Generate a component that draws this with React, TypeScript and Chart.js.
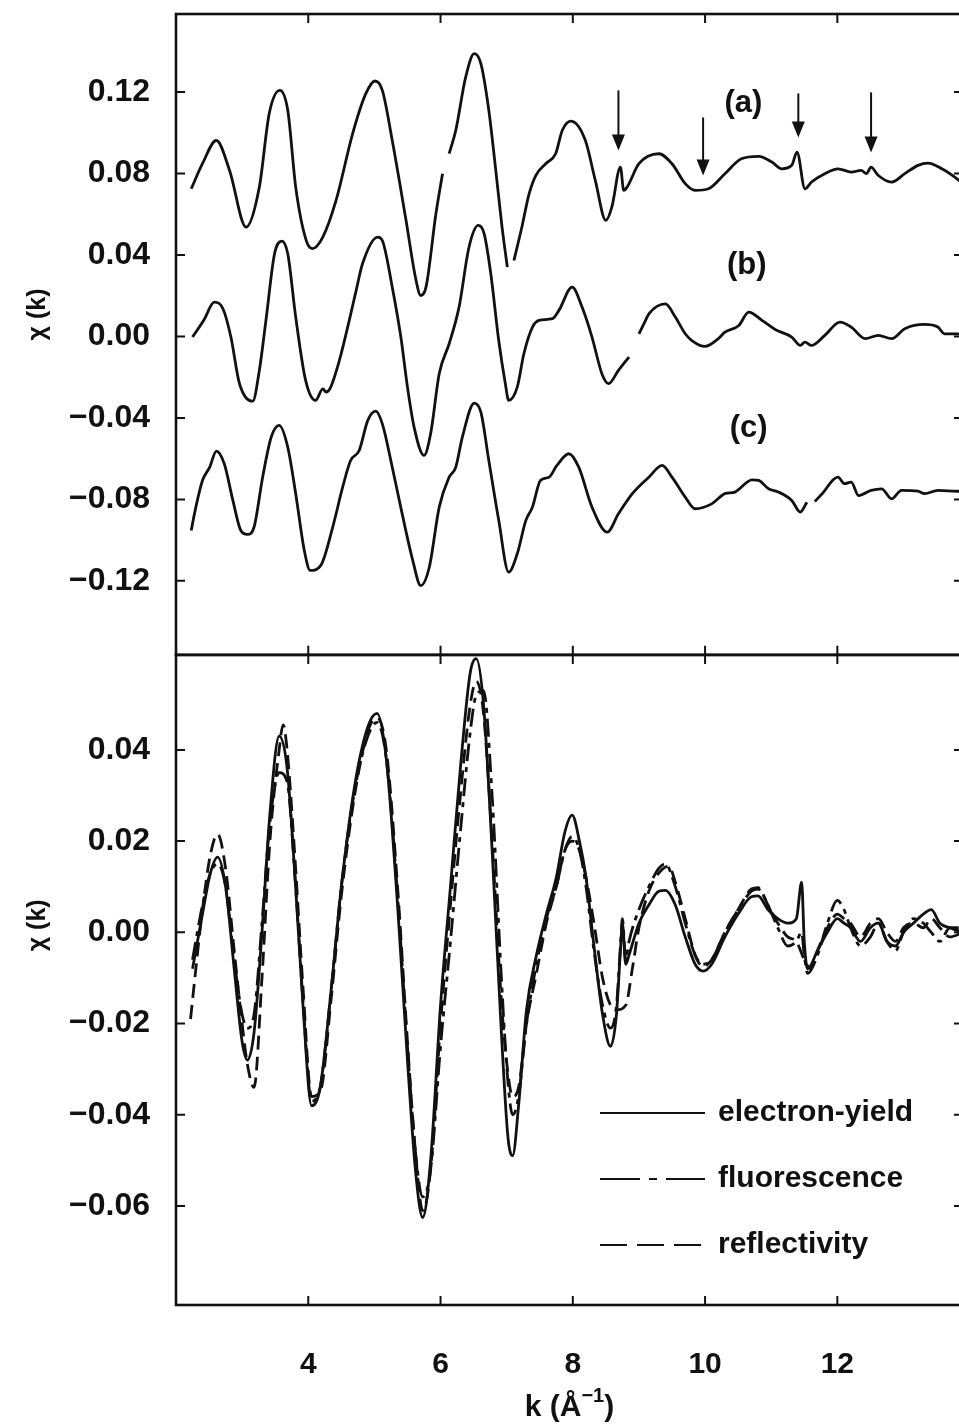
import React, { useEffect, useRef } from 'react';
import { Chart, registerables } from 'chart.js';

Chart.register(...registerables);

const FONT = '"Liberation Sans", Arial, Helvetica, sans-serif';
const INK = '#111';

// Shared k axis
const K_MIN = 2.0;
const K_MAX = 13.9;
const X_TICKS = [4, 6, 8, 10, 12];

// Upper panel: three offset spectra (a), (b), (c)
const TOP_MIN = -0.1563;
const TOP_MAX = 0.1583;
const TOP_TICKS = [0.12, 0.08, 0.04, 0.0, -0.04, -0.08, -0.12];

const K_A = [
  2.23, 2.40, 2.61, 2.81, 3.06, 3.26, 3.41, 3.57, 3.69, 3.81,
  3.97, 4.06, 4.22, 4.42, 4.67, 4.87, 5.01, 5.12, 5.27, 5.47,
  5.63, 5.70, 5.78, 5.93, 6.03, 6.08, 6.13, 6.23, 6.38, 6.51,
  6.61, 6.73, 6.83, 6.93, 7.01, 7.06, 7.11, 7.23, 7.34, 7.44,
  7.59, 7.74, 7.84, 7.97, 8.19, 8.34, 8.50, 8.59, 8.72, 8.77,
  8.82, 9.00, 9.30, 9.50, 9.70, 9.85, 10.05, 10.30, 10.55, 10.81,
  11.01, 11.16, 11.31, 11.39, 11.51, 11.61, 11.81, 12.01, 12.21, 12.36,
  12.44, 12.51, 12.62, 12.82, 13.02, 13.22, 13.37, 13.58, 13.81, 13.90,
];
const CHI_A = [
  0.0725, 0.0848, 0.0962, 0.0815, 0.0537, 0.0733, 0.1095, 0.1208, 0.111, 0.0733,
  0.047, 0.0431, 0.0488, 0.0668, 0.0995, 0.1192, 0.1254, 0.1208, 0.0962, 0.0586,
  0.0275, 0.0201, 0.0242, 0.0602, 0.0799, null, 0.0897, 0.1011, 0.1273, 0.1388,
  0.1339, 0.111, 0.0831, 0.0537, 0.034, null, 0.0373, 0.0537, 0.0701, 0.079,
  0.0848, 0.0897, 0.1011, 0.1057, 0.0962, 0.0766, 0.057, 0.0635, 0.0831, 0.0717,
  0.0733, 0.0848, 0.0897, 0.0848, 0.075, 0.0717, 0.0725, 0.0799, 0.0872, 0.0884,
  0.0856, 0.0823, 0.084, 0.0905, 0.0725, 0.0758, 0.0799, 0.0823, 0.0807, 0.0815,
  0.0799, 0.0831, 0.079, 0.0758, 0.0799, 0.084, 0.0851, 0.0823, 0.0774, 0.075,
];

const K_B = [
  2.25, 2.42, 2.58, 2.71, 2.83, 2.96, 3.16, 3.26, 3.36, 3.49,
  3.60, 3.69, 3.81, 3.96, 4.11, 4.22, 4.27, 4.33, 4.47, 4.62,
  4.72, 4.82, 5.05, 5.12, 5.27, 5.40, 5.50, 5.60, 5.75, 5.85,
  5.98, 6.13, 6.28, 6.43, 6.57, 6.66, 6.76, 6.88, 6.98, 7.03,
  7.16, 7.26, 7.39, 7.49, 7.69, 7.79, 7.99, 8.14, 8.29, 8.44,
  8.54, 8.69, 8.85, 8.92, 9.00, 9.10, 9.15, 9.40, 9.55, 9.70,
  9.80, 10.00, 10.20, 10.30, 10.51, 10.66, 10.86, 11.06, 11.31, 11.44,
  11.51, 11.61, 11.81, 12.04, 12.21, 12.42, 12.62, 12.82, 13.02, 13.32,
  13.52, 13.62, 13.81, 13.90,
];
const CHI_B = [
  -0.0003, 0.0079, 0.0168, 0.0136, -0.0003, -0.0232, -0.0318, -0.0167, 0.0079, 0.0406,
  0.0468, 0.0406, 0.0095, -0.0216, -0.0314, -0.0257, -0.0273, -0.0255, -0.0118, 0.0079,
  0.022, 0.0357, 0.0488, 0.0471, 0.0242, -0.0003, -0.0249, -0.0445, -0.0584, -0.0478,
  -0.0183, -0.0036, 0.0144, 0.0438, 0.0545, 0.0504, 0.0308, -0.002, -0.0232, -0.0314,
  -0.0249, -0.0085, 0.0046, 0.0079, 0.0087, 0.0128, 0.0242, 0.0144, -0.0003, -0.0183,
  -0.0232, -0.0167, -0.0101, null, 0.0013, 0.0079, 0.0111, 0.016, 0.0095, 0.0013,
  -0.002, -0.0049, -0.0011, 0.0021, 0.0054, 0.0119, 0.0079, 0.0034, -0.0003, -0.0044,
  -0.0028, -0.0044, 0.0005, 0.007, 0.0046, -0.0011, 0.0005, -0.0011, 0.0038, 0.0059,
  0.0046, 0.0013, 0.0013, 0.001,
];

const K_C = [
  2.23, 2.30, 2.40, 2.51, 2.61, 2.73, 2.86, 2.98, 3.08, 3.18,
  3.31, 3.44, 3.56, 3.69, 3.81, 3.94, 4.03, 4.19, 4.37, 4.52,
  4.64, 4.77, 4.90, 5.02, 5.12, 5.27, 5.42, 5.58, 5.70, 5.83,
  5.98, 6.13, 6.23, 6.33, 6.51, 6.61, 6.73, 6.88, 7.03, 7.16,
  7.29, 7.39, 7.51, 7.64, 7.76, 7.94, 8.09, 8.29, 8.52, 8.69,
  8.90, 9.15, 9.35, 9.50, 9.70, 9.85, 10.10, 10.30, 10.45, 10.71,
  10.81, 10.96, 11.11, 11.31, 11.44, 11.54, 11.60, 11.66, 11.77, 12.01,
  12.11, 12.21, 12.32, 12.51, 12.67, 12.82, 12.97, 13.22, 13.32, 13.52,
  13.81, 13.90,
];
const CHI_C = [
  -0.0953, -0.0838, -0.0707, -0.0642, -0.0563, -0.0625, -0.0805, -0.0953, -0.0972, -0.0936,
  -0.0691, -0.0494, -0.0437, -0.0544, -0.0772, -0.1051, -0.1149, -0.1124, -0.0936, -0.074,
  -0.0609, -0.056, -0.0412, -0.0367, -0.0429, -0.0642, -0.0871, -0.11, -0.1223, -0.1133,
  -0.0838, -0.0691, -0.0642, -0.0494, -0.0327, -0.0372, -0.0609, -0.0903, -0.1157, -0.1067,
  -0.0903, -0.0838, -0.0707, -0.0691, -0.0633, -0.0576, -0.0642, -0.0838, -0.0961, -0.0871,
  -0.0772, -0.0691, -0.0633, -0.0691, -0.0789, -0.0846, -0.0822, -0.0772, -0.0764, -0.0704,
  -0.0707, -0.0748, -0.0764, -0.0805, -0.0862, -0.0814, null, -0.081, -0.0772, -0.0691,
  -0.0723, -0.0715, -0.0781, -0.0756, -0.0748, -0.0797, -0.0756, -0.076, -0.0772, -0.0756,
  -0.076, -0.076,
];

const PANEL_LABELS = ['(a)', '(b)', '(c)'];
const PANEL_LABEL_K = [10.58, 10.63, 10.66];
const PANEL_LABEL_CHI = [0.1144, 0.0349, -0.0452];

// Arrows marking glitches in spectrum (a)
const ARROW_K = [8.69, 9.97, 11.41, 12.51];
const ARROW_FROM = [0.1208, 0.1075, 0.1193, 0.1198];
const ARROW_TO = [0.0913, 0.079, 0.0977, 0.0903];

// Lower panel: comparison of detection modes
const BOT_MIN = -0.0817;
const BOT_MAX = 0.0608;
const BOT_TICKS = [0.04, 0.02, 0.0, -0.02, -0.04, -0.06];

const K_EY = [
  2.25, 2.4, 2.52, 2.63, 2.75, 2.88, 3.0, 3.08, 3.18, 3.3,
  3.42, 3.56, 3.68, 3.8, 3.92, 4.05, 4.18, 4.35, 4.5, 4.7,
  4.9, 5.04, 5.18, 5.35, 5.5, 5.62, 5.73, 5.85, 6.0, 6.15,
  6.3, 6.45, 6.54, 6.65, 6.78, 6.92, 7.02, 7.09, 7.18, 7.3,
  7.45, 7.6, 7.75, 7.88, 7.99, 8.1, 8.2, 8.32, 8.45, 8.57,
  8.66, 8.72, 8.75, 8.8, 8.85, 9.0, 9.15, 9.3, 9.4, 9.55,
  9.7, 9.85, 9.97, 10.1, 10.3, 10.5, 10.7, 10.8, 10.95, 11.1,
  11.25, 11.38, 11.46, 11.5, 11.55, 11.7, 11.85, 12.0, 12.1, 12.2,
  12.35, 12.5, 12.62, 12.75, 12.88, 13.0, 13.15, 13.3, 13.42, 13.55,
  13.7, 13.9,
];
const CHI_EY = [
  -0.008, 0.004, 0.013, 0.0165, 0.01, -0.008, -0.024, -0.028, -0.022, 0.0,
  0.026, 0.043, 0.036, 0.012, -0.016, -0.038, -0.034, -0.012, 0.01, 0.032,
  0.045, 0.048, 0.038, 0.006, -0.028, -0.052, -0.0625, -0.05, -0.016, 0.01,
  0.036, 0.057, 0.06, 0.05, 0.018, -0.022, -0.045, -0.049, -0.038, -0.017,
  -0.005, 0.004, 0.012, 0.022, 0.0257, 0.02, 0.012, -0.003, -0.018, -0.025,
  -0.018, -0.004, 0.002, -0.007, -0.005, 0.002, 0.006, 0.009, 0.0092, 0.006,
  -0.001, -0.007, -0.0085, -0.007, -0.001, 0.004, 0.0078, 0.008, 0.005, 0.003,
  0.002, 0.003, 0.011, -0.002, -0.008, -0.004, 0.0, 0.003, 0.002, 0.001,
  -0.002, 0.001, 0.002, -0.002, -0.003, 0.0, 0.002, 0.004, 0.005, 0.002,
  0.001, 0.0,
];
const CHI_FL = [
  -0.006, 0.006, 0.013, 0.015, 0.01, -0.006, -0.018, -0.021, -0.018, 0.002,
  0.024, 0.035, 0.033, 0.012, -0.015, -0.037, -0.034, -0.012, 0.01, 0.031,
  0.043, 0.046, 0.038, 0.008, -0.025, -0.048, -0.058, -0.052, -0.025, -0.002,
  0.022, 0.044, 0.052, 0.053, 0.03, -0.01, -0.033, -0.04, -0.036, -0.02,
  -0.007, 0.003, 0.01, 0.018, 0.021, 0.018, 0.01, -0.004, -0.016, -0.021,
  -0.016, -0.003, 0.003, -0.006, -0.002, 0.005, 0.01, 0.014, 0.015, 0.01,
  0.002, -0.005, -0.007, -0.006, 0.0, 0.005, 0.009, 0.0095, 0.006, 0.001,
  -0.003, -0.002, 0.0, -0.005, -0.009, -0.005, 0.002, 0.007, 0.005, 0.001,
  -0.003, -0.001, 0.002, -0.002, -0.004, 0.0, 0.003, 0.002, 0.0, -0.002,
  0.001, 0.001,
];

const K_RF = [
  2.22, 2.3, 2.4, 2.52, 2.63, 2.75, 2.88, 3.0, 3.08, 3.18,
  3.3, 3.42, 3.56, 3.62, 3.68, 3.8, 3.92, 4.05, 4.18, 4.35,
  4.5, 4.7, 4.9, 5.04, 5.18, 5.35, 5.5, 5.62, 5.73, 5.85,
  6.0, 6.15, 6.3, 6.45, 6.54, 6.65, 6.78, 6.92, 7.02, 7.09,
  7.18, 7.3, 7.45, 7.6, 7.75, 7.88, 7.99, 8.1, 8.2, 8.32,
  8.45, 8.57, 8.66, 8.8, 8.9, 9.0, 9.15, 9.3, 9.45, 9.55,
  9.7, 9.85, 9.97, 10.1, 10.3, 10.5, 10.7, 10.8, 10.95, 11.1,
  11.25, 11.38, 11.5, 11.6, 11.7, 11.85, 12.0, 12.1, 12.2, 12.35,
  12.5, 12.62, 12.75, 12.88, 13.0, 13.15, 13.3, 13.42, 13.55, 13.7,
  13.9,
];
const CHI_RF = [
  -0.019, -0.008, 0.005, 0.017, 0.0215, 0.014, -0.004, -0.02, -0.029, -0.034,
  -0.01, 0.02, 0.04, 0.0455, 0.04, 0.016, -0.012, -0.036, -0.035, -0.014,
  0.008, 0.03, 0.044, 0.047, 0.04, 0.01, -0.024, -0.048, -0.061, -0.052,
  -0.02, 0.006, 0.03, 0.05, 0.055, 0.048, 0.02, -0.015, -0.031, -0.036,
  -0.034, -0.02, -0.009, 0.002, 0.01, 0.018, 0.02, 0.018, 0.012, 0.002,
  -0.01, -0.016, -0.017, -0.016, -0.008, 0.001, 0.009, 0.013, 0.0145, 0.011,
  0.003, -0.005, -0.0075, -0.006, 0.0, 0.005, 0.0095, 0.0098, 0.006, 0.002,
  -0.001, -0.002, -0.006, -0.008, -0.004, 0.001, 0.004, 0.003, 0.002, -0.001,
  0.002, 0.003, 0.0, -0.002, 0.001, 0.002, 0.001, 0.003, 0.001, -0.001,
  0.0,
];

const SERIES_NAMES = ['electron-yield', 'fluorescence', 'reflectivity'];

function toPoints(ks: number[], vs: (number | null)[]) {
  const n = Math.min(ks.length, vs.length);
  const out: { x: number; y: number | null }[] = [];
  for (let i = 0; i < n; i++) out.push({ x: ks[i], y: vs[i] });
  return out;
}

function fmtTick(v: number) {
  if (Math.abs(v) < 1e-9) return '0.00';
  return (v < 0 ? '\u2212' : '') + Math.abs(v).toFixed(2);
}

// Closed frame with inward tick marks on every side
const framePlugin = {
  id: 'frame',
  afterDraw(chart: any) {
    const { ctx, chartArea: a, scales } = chart;
    const xs = scales.x;
    const ys = scales.y;
    const L = 9;
    ctx.save();
    ctx.strokeStyle = INK;
    ctx.lineWidth = 2.6;
    ctx.strokeRect(a.left, a.top, a.right - a.left, a.bottom - a.top);
    ctx.lineWidth = 2;
    ctx.beginPath();
    for (const t of xs.ticks) {
      const px = xs.getPixelForValue(t.value);
      ctx.moveTo(px, a.top);
      ctx.lineTo(px, a.top + L);
      ctx.moveTo(px, a.bottom);
      ctx.lineTo(px, a.bottom - L);
    }
    for (const t of ys.ticks) {
      const py = ys.getPixelForValue(t.value);
      ctx.moveTo(a.left, py);
      ctx.lineTo(a.left + L, py);
      ctx.moveTo(a.right, py);
      ctx.lineTo(a.right - L, py);
    }
    ctx.stroke();
    ctx.restore();
  },
};

// Rotated χ(k) title placed beside the zero line
const yTitlePlugin = {
  id: 'ytitle',
  afterDraw(chart: any, _args: any, opts: any) {
    const { ctx, scales } = chart;
    const y0 = scales.y.getPixelForValue(0) + (opts.shift || 0);
    ctx.save();
    ctx.translate(38, y0);
    ctx.rotate(-Math.PI / 2);
    ctx.fillStyle = INK;
    ctx.font = `bold 25px ${FONT}`;
    ctx.textAlign = 'center';
    ctx.textBaseline = 'middle';
    ctx.fillText('\u03C7 (k)', 0, 0);
    ctx.restore();
  },
};

const topAnnotations = {
  id: 'topNotes',
  afterDatasetsDraw(chart: any) {
    const { ctx, scales } = chart;
    const xs = scales.x;
    const ys = scales.y;
    ctx.save();
    ctx.fillStyle = INK;
    ctx.font = `bold 31px ${FONT}`;
    ctx.textAlign = 'center';
    ctx.textBaseline = 'middle';
    PANEL_LABELS.forEach((t, i) => {
      ctx.fillText(t, xs.getPixelForValue(PANEL_LABEL_K[i]), ys.getPixelForValue(PANEL_LABEL_CHI[i]));
    });
    ctx.strokeStyle = INK;
    ctx.lineWidth = 2;
    ARROW_K.forEach((k, i) => {
      const px = xs.getPixelForValue(k);
      const y1 = ys.getPixelForValue(ARROW_FROM[i]);
      const y2 = ys.getPixelForValue(ARROW_TO[i]);
      const head = 16;
      ctx.beginPath();
      ctx.moveTo(px, y1);
      ctx.lineTo(px, y2 - head + 2);
      ctx.stroke();
      ctx.beginPath();
      ctx.moveTo(px, y2);
      ctx.lineTo(px - 6.5, y2 - head);
      ctx.lineTo(px + 6.5, y2 - head);
      ctx.closePath();
      ctx.fill();
    });
    ctx.restore();
  },
};

const bottomNotes = {
  id: 'bottomNotes',
  afterDraw(chart: any) {
    const { ctx, chartArea: a } = chart;
    ctx.save();
    ctx.fillStyle = INK;
    ctx.strokeStyle = INK;
    // legend
    const lx = a.left + 424;
    const ly = a.top + 458;
    chart.data.datasets.forEach((ds: any, i: number) => {
      const y = ly + i * 66;
      ctx.lineWidth = 2;
      ctx.setLineDash(ds.legendDash || []);
      ctx.beginPath();
      ctx.moveTo(lx, y);
      ctx.lineTo(lx + 105, y);
      ctx.stroke();
      ctx.setLineDash([]);
      ctx.font = `bold 30px ${FONT}`;
      ctx.textAlign = 'left';
      ctx.textBaseline = 'middle';
      ctx.fillText(ds.label, lx + 118, y);
    });
    // x-axis title with superscript
    const cx = (a.left + a.right) / 2;
    const cy = a.bottom + 100;
    const p1 = 'k (\u00C5';
    const p2 = '\u22121';
    const p3 = ')';
    ctx.font = `bold 30px ${FONT}`;
    const w1 = ctx.measureText(p1).width;
    const w3 = ctx.measureText(p3).width;
    ctx.font = `bold 20px ${FONT}`;
    const w2 = ctx.measureText(p2).width;
    let x = cx - (w1 + w2 + w3) / 2;
    ctx.textAlign = 'left';
    ctx.textBaseline = 'alphabetic';
    ctx.font = `bold 30px ${FONT}`;
    ctx.fillText(p1, x, cy + 11);
    x += w1;
    ctx.font = `bold 20px ${FONT}`;
    ctx.fillText(p2, x, cy - 3);
    x += w2;
    ctx.font = `bold 30px ${FONT}`;
    ctx.fillText(p3, x, cy + 11);
    ctx.restore();
  },
};

function baseLine(data: any[], dash: number[] = []) {
  return {
    data,
    borderColor: INK,
    borderWidth: 2.8,
    borderDash: dash,
    pointRadius: 0,
    fill: false,
    cubicInterpolationMode: 'monotone' as const,
    spanGaps: false,
  };
}

function yScale(min: number, max: number, ticks: number[]) {
  return {
    type: 'linear' as const,
    min,
    max,
    afterBuildTicks: (s: any) => {
      s.ticks = ticks.map((value) => ({ value }));
    },
    afterFit: (s: any) => {
      s.width = 176;
    },
    grid: { display: false, drawTicks: false },
    border: { display: false },
    ticks: {
      padding: 26,
      color: INK,
      font: { family: FONT, size: 32, weight: 'bold' as const },
      callback: (v: any) => fmtTick(Number(v)),
    },
  };
}

function xScale(showLabels: boolean, height: number) {
  return {
    type: 'linear' as const,
    min: K_MIN,
    max: K_MAX,
    afterBuildTicks: (s: any) => {
      s.ticks = X_TICKS.map((value) => ({ value }));
    },
    afterFit: (s: any) => {
      s.height = height;
    },
    grid: { display: false, drawTicks: false },
    border: { display: false },
    ticks: {
      display: showLabels,
      padding: 42,
      color: INK,
      font: { family: FONT, size: 30, weight: 'bold' as const },
      maxRotation: 0,
    },
  };
}

const commonOptions = {
  responsive: false,
  maintainAspectRatio: false,
  animation: false as const,
  devicePixelRatio: 1,
  events: [] as any[],
};

export default function App() {
  const topRef = useRef<HTMLCanvasElement>(null);
  const botRef = useRef<HTMLCanvasElement>(null);

  useEffect(() => {
    const top = new Chart(topRef.current!, {
      type: 'line',
      data: {
        datasets: [
          { label: '(a)', ...baseLine(toPoints(K_A, CHI_A)) },
          { label: '(b)', ...baseLine(toPoints(K_B, CHI_B)) },
          { label: '(c)', ...baseLine(toPoints(K_C, CHI_C)) },
        ],
      },
      options: {
        ...commonOptions,
        layout: { padding: { top: 64, right: 22, bottom: 0, left: 0 } },
        scales: {
          x: xScale(false, 45),
          y: yScale(TOP_MIN, TOP_MAX, TOP_TICKS),
        },
        plugins: {
          legend: { display: false },
          tooltip: { enabled: false },
          ytitle: { shift: -22 },
        },
      },
      plugins: [framePlugin, yTitlePlugin, topAnnotations],
    } as any);

    const bot = new Chart(botRef.current!, {
      type: 'line',
      data: {
        datasets: [
          { label: SERIES_NAMES[0], ...baseLine(toPoints(K_EY, CHI_EY)), legendDash: [] },
          { label: SERIES_NAMES[1], ...baseLine(toPoints(K_EY, CHI_FL), [18, 6, 5, 6]), legendDash: [40, 9, 8, 9] },
          { label: SERIES_NAMES[2], ...baseLine(toPoints(K_RF, CHI_RF), [14, 7]), legendDash: [27, 10] },
        ],
      },
      options: {
        ...commonOptions,
        layout: { padding: { top: 55, right: 22, bottom: 0, left: 0 } },
        scales: {
          x: xScale(true, 119),
          y: yScale(BOT_MIN, BOT_MAX, BOT_TICKS),
        },
        plugins: {
          legend: { display: false },
          tooltip: { enabled: false },
          ytitle: { shift: -7 },
        },
      },
      plugins: [framePlugin, yTitlePlugin, bottomNotes],
    } as any);

    return () => {
      top.destroy();
      bot.destroy();
    };
  }, []);

  return (
    <div
      style={{
        position: 'fixed',
        left: 0,
        top: 0,
        width: 959,
        height: 1424,
        overflow: 'hidden',
        background: '#fff',
      }}
    >
      <canvas
        ref={topRef}
        width={985}
        height={750}
        style={{ position: 'absolute', left: 0, top: -50, width: 985, height: 750 }}
      />
      <canvas
        ref={botRef}
        width={985}
        height={824}
        style={{ position: 'absolute', left: 0, top: 600, width: 985, height: 824 }}
      />
    </div>
  );
}
